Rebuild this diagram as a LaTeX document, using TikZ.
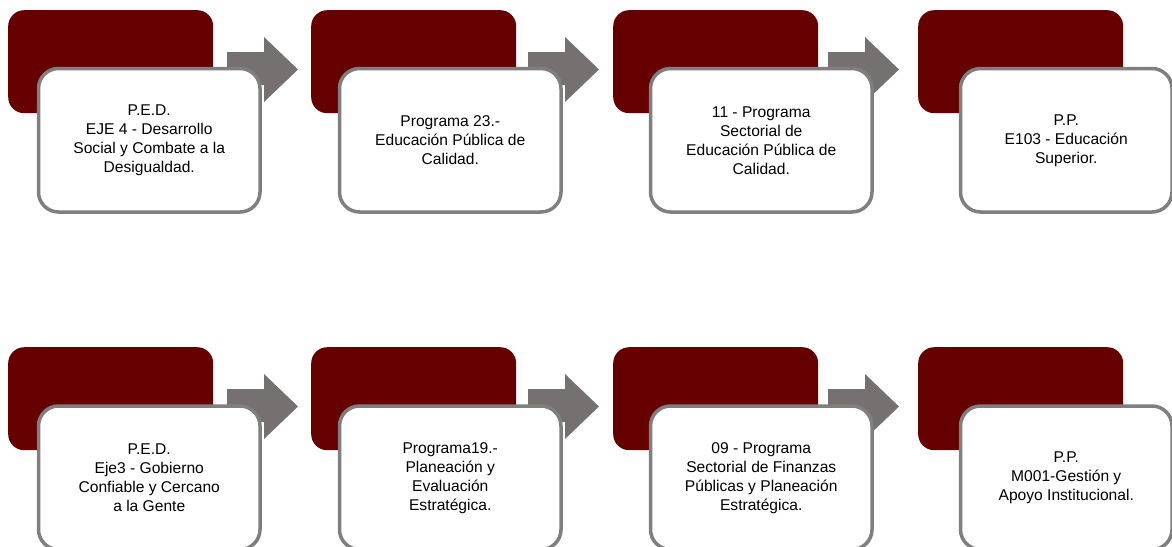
\documentclass[tikz,border=0pt]{standalone}
\usepackage{fontspec}
\setmainfont{Liberation Sans}
\definecolor{darkred}{HTML}{660000}
\definecolor{arrowgray}{HTML}{767171}
\definecolor{bordergray}{HTML}{7F7F7F}
\tikzset{
  backbox/.style={fill=darkred, rounded corners=16pt, minimum width=205pt, minimum height=103pt, anchor=north west, inner sep=0pt},
  frontbox/.style={fill=white, draw=bordergray, line width=3.5pt, rounded corners=20pt, minimum width=221.5pt, minimum height=143.5pt, anchor=north west, inner sep=0pt, align=center, font=\fontsize{15.6}{19}\selectfont, text=black, execute at begin node={\rule{0pt}{18pt}}},
  flowarrow/.style={fill=arrowgray}
}
\newcommand\blockarrow[2]{%
  \fill[flowarrow] (#1,#2+42) -- (#1+37,#2+42) -- (#1+37,#2+27) -- (#1+71,#2+59.5) -- (#1+37,#2+92) -- (#1+37,#2+75) -- (#1,#2+75) -- cycle;}
\begin{document}
\begin{tikzpicture}[x=1pt,y=-1pt]
\useasboundingbox (0,0) rectangle (1172,546);
\clip (0,0) rectangle (1172,546);
% back boxes
\node[backbox] (d1) at (8,10) {};
\node[backbox] (d2) at (311,10) {};
\node[backbox] (d3) at (613,10) {};
\node[backbox] (d4) at (918,10) {};
\node[backbox] (d5) at (8,347) {};
\node[backbox] (d6) at (311,347) {};
\node[backbox] (d7) at (613,347) {};
\node[backbox] (d8) at (918,347) {};
% arrows
\blockarrow{227}{10}
\blockarrow{528}{10}
\blockarrow{828}{10}
\blockarrow{227}{347}
\blockarrow{528}{347}
\blockarrow{828}{347}
% front boxes
\node[frontbox] (w1) at (36.75,66.75) {P.E.D.\\EJE 4 - Desarrollo\\Social y Combate a la\\Desigualdad.};
\node[frontbox] (w2) at (337.75,66.75) {Programa 23.-\\Educación Pública de\\Calidad.};
\node[frontbox] (w3) at (648.75,66.75) {11 - Programa\\Sectorial de\\Educación Pública de\\Calidad.};
\node[frontbox, minimum width=211.5pt] (w4) at (958.75,66.75) {P.P.\\E103 - Educación\\Superior.};
\node[frontbox] (w5) at (36.75,404.25) {P.E.D.\\Eje3 - Gobierno\\Confiable y Cercano\\a la Gente};
\node[frontbox] (w6) at (337.75,404.25) {Programa19.-\\Planeación y\\Evaluación\\Estratégica.};
\node[frontbox] (w7) at (648.75,404.25) {09 - Programa\\Sectorial de Finanzas\\Públicas y Planeación\\Estratégica.};
\node[frontbox, minimum width=211.5pt] (w8) at (958.75,404.25) {P.P.\\M001-Gestión y\\Apoyo Institucional.};
\end{tikzpicture}
\end{document}
